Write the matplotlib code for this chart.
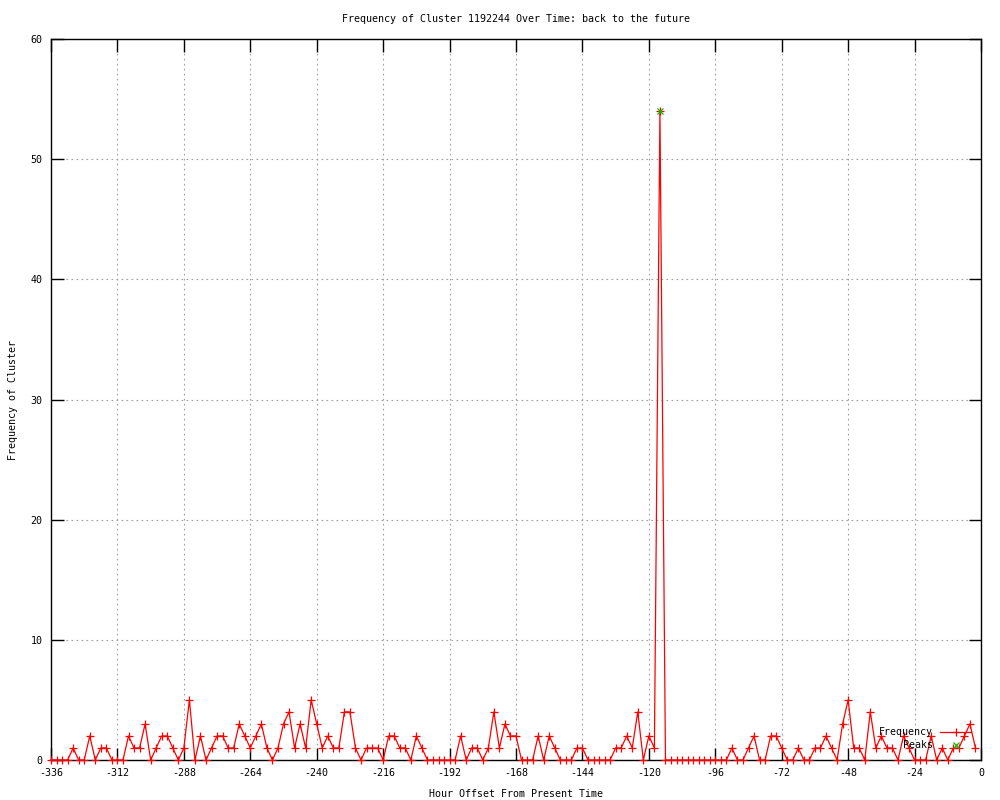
import numpy as np
import matplotlib
matplotlib.use("Agg")
import matplotlib.pyplot as plt

# hour offsets: one sample every 2 hours, from -336 up to -2
HOUR_START = -336
HOUR_STEP = 2

frequency = [
    0, 0, 0, 0, 1, 0, 0, 2, 0, 1,      # -336 .. -318
    1, 0, 0, 0, 2, 1, 1, 3, 0, 1,      # -316 .. -298
    2, 2, 1, 0, 1, 5, 0, 2, 0, 1,      # -296 .. -278
    2, 2, 1, 1, 3, 2, 1, 2, 3, 1,      # -276 .. -258
    0, 1, 3, 4, 1, 3, 1, 5, 3, 1,      # -256 .. -238
    2, 1, 1, 4, 4, 1, 0, 1, 1, 1,      # -236 .. -218
    0, 2, 2, 1, 1, 0, 2, 1, 0, 0,      # -216 .. -198
    0, 0, 0, 0, 2, 0, 1, 1, 0, 1,      # -196 .. -178
    4, 1, 3, 2, 2, 0, 0, 0, 2, 0,      # -176 .. -158
    2, 1, 0, 0, 0, 1, 1, 0, 0, 0,      # -156 .. -138
    0, 0, 1, 1, 2, 1, 4, 0, 2, 1,      # -136 .. -118
    54, 0, 0, 0, 0, 0, 0, 0, 0, 0,     # -116 .. -98
    0, 0, 0, 1, 0, 0, 1, 2, 0, 0,      # -96 .. -78
    2, 2, 1, 0, 0, 1, 0, 0, 1, 1,      # -76 .. -58
    2, 1, 0, 3, 5, 1, 1, 0, 4, 1,      # -56 .. -38
    2, 1, 1, 0, 2, 1, 0, 0, 0, 2,      # -36 .. -18
    0, 1, 0, 1, 1, 2, 3, 1,            # -16 .. -2
]
hours = HOUR_START + HOUR_STEP * np.arange(len(frequency))

peak_hours = [-116]
peak_values = [54]

x_ticks = list(range(-336, 1, 24))
y_ticks = list(range(0, 61, 10))

TITLE = "Frequency of Cluster 1192244 Over Time: back to the future"
XLABEL = "Hour Offset From Present Time"
YLABEL = "Frequency of Cluster"

FONT = "DejaVu Sans Mono"
FS = 7.2

plt.rcParams["font.family"] = FONT
plt.rcParams["font.size"] = FS
plt.rcParams["axes.unicode_minus"] = False

fig = plt.figure(figsize=(10, 8), dpi=100)
ax = fig.add_axes([0.051, 0.05, 0.930, 0.90125])

ax.plot(hours, frequency, color="#ff0000", linewidth=0.9, marker="+",
        markersize=6, markeredgewidth=0.9, clip_on=False, label="Frequency",
        zorder=3)
ax.plot(peak_hours, peak_values, linestyle="none", color="#00c000",
        marker="x", markersize=5, markeredgewidth=0.9, clip_on=False,
        label="    Peaks", zorder=4)

ax.set_xlim(-336, 0)
ax.set_ylim(0, 60)
ax.set_xticks(x_ticks)
ax.set_yticks(y_ticks)

ax.grid(True, color="#a0a0a0", linestyle=(0, (1.5, 3)), linewidth=0.8)
ax.tick_params(direction="in", top=True, right=True, length=9, width=1,
               labelsize=FS, pad=6)
for s in ax.spines.values():
    s.set_linewidth(1.0)

ax.set_title(TITLE, fontsize=FS, pad=12)
ax.set_xlabel(XLABEL, fontsize=FS, labelpad=7.5)
ax.set_ylabel(YLABEL, fontsize=FS, labelpad=9)

leg = ax.legend(loc="lower right", frameon=False, markerfirst=False,
                handlelength=3.1, handletextpad=0.7, labelspacing=0.28,
                borderaxespad=0.6, fontsize=FS)

fig.savefig("out.png", dpi=100)
